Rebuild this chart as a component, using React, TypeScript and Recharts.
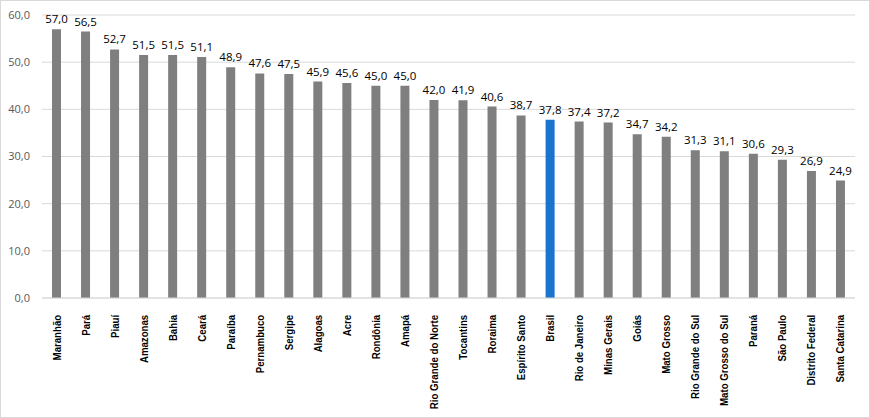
import React from 'react';
import { BarChart, Bar, XAxis, YAxis, CartesianGrid, Cell, LabelList } from 'recharts';

const categories = ['Maranhão','Pará','Piauí','Amazonas','Bahia','Ceará','Paraíba','Pernambuco','Sergipe','Alagoas','Acre','Rondônia','Amapá','Rio Grande do Norte','Tocantins','Roraima','Espírito Santo','Brasil','Rio de Janeiro','Minas Gerais','Goiás','Mato Grosso','Rio Grande do Sul','Mato Grosso do Sul','Paraná','São Paulo','Distrito Federal','Santa Catarina'];
const values = [57.0,56.5,52.7,51.5,51.5,51.1,48.9,47.6,47.5,45.9,45.6,45.0,45.0,42.0,41.9,40.6,38.7,37.8,37.4,37.2,34.7,34.2,31.3,31.1,30.6,29.3,26.9,24.9];
const yTicks = [0,10,20,30,40,50,60];
const highlight = 'Brasil';

const data = categories.map((name, i) => ({ name, value: values[i] }));
const fmt = (v: number) => v.toFixed(1).replace('.', ',');

const XTick = (props: any) => {
  const { x, y, payload } = props;
  return (
    <g transform={`translate(${x},${y})`}>
      <text transform="rotate(-90) scale(0.84,1)" x={-10.5} y={0} dy={4} textAnchor="end"
        fontFamily="'Liberation Sans', Arial, sans-serif" fontWeight="bold" fontSize={11.5} fill="#000">
        {payload.value}
      </text>
    </g>
  );
};

export default function App() {
  return (
    <div style={{ position: 'absolute', left: 0, top: 0, width: 870, height: 418, boxSizing: 'border-box', border: '1px solid #d9d9d9', background: '#fff' }}>
      <div style={{ position: 'absolute', left: -1, top: -1 }}>
        <BarChart width={870} height={418} data={data} margin={{ top: 15, right: 15, bottom: 0, left: 0 }} barCategoryGap={0}>
          <CartesianGrid vertical={false} stroke="#d9d9d9" />
          <XAxis dataKey="name" interval={0} tickLine={false} axisLine={{ stroke: '#d9d9d9' }} height={120} tick={<XTick />} />
          <YAxis domain={[0, 60]} ticks={yTicks} width={42} axisLine={false} tickLine={false} tickMargin={6}
            tickFormatter={fmt} tick={{ fontSize: 11, fill: '#595959', fontFamily: "'Open Sans', sans-serif" }} />
          <Bar dataKey="value" barSize={9} isAnimationActive={false}>
            {data.map((d) => (
              <Cell key={d.name} fill={d.name === highlight ? '#1a73cc' : '#7f7f7f'} />
            ))}
            <LabelList dataKey="value" position="top" offset={6} formatter={(v: any) => fmt(Number(v))}
              style={{ fontSize: 11.5, fill: '#000', fontFamily: "'Open Sans', sans-serif" }} />
          </Bar>
        </BarChart>
      </div>
    </div>
  );
}
